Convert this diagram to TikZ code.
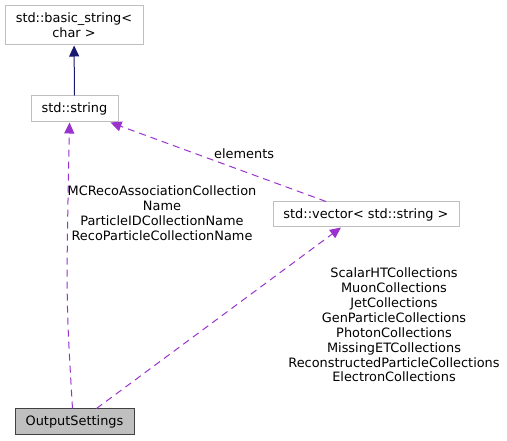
\documentclass[tikz,border=0pt]{standalone}
\usepackage{fontspec}
\setmainfont{DejaVu Sans}
\usetikzlibrary{arrows.meta}
\definecolor{Frame}{HTML}{BFBFBF}
\definecolor{Navy}{HTML}{191970}
\definecolor{Orchid}{HTML}{9A32CD}
\definecolor{Shade}{HTML}{BFBFBF}
\definecolor{Edge}{HTML}{404040}
\tikzset{
  klass/.style={
    draw=Frame, fill=white, inner sep=2pt, align=center, line width=1pt,
    font=\fontsize{12.9}{15}\selectfont
  },
  focus/.style={
    klass, draw=Edge, fill=Shade
  },
  member/.style={
    align=center, font=\fontsize{12.9}{14.9}\selectfont, inner sep=0pt
  },
  inherit/.style={-{Triangle[length=11pt,width=10pt,fill=Navy]}, line width=1pt, draw=Navy},
  uses/.style={-{Triangle[length=11pt,width=10pt,fill=Orchid]}, line width=1pt,
    dash pattern=on 7pt off 5pt, draw=Orchid}
}
\begin{document}
\begin{tikzpicture}[x=1pt,y=-1pt]
    \useasboundingbox (0,0) rectangle (507,441);
    \node[klass,minimum width=138pt,minimum height=39pt] (bstr) at (74,25.5) {std::basic\_string<\\char >};
    \node[klass,minimum width=87pt,minimum height=26pt] (str) at (74.5,109) {std::string};
    \node[klass,minimum width=186pt,minimum height=25pt] (vec) at (366,214.5) {std::vector< std::string >};
    \node[focus,minimum width=119pt,minimum height=25pt] (out) at (74.5,421.5) {OutputSettings};
    \draw[inherit] (str) -- (bstr);
    \draw[uses] ([xshift=-2pt]out.north) .. controls (66,300) .. ([xshift=-5pt]str.south);
    \draw[uses] ([xshift=-40pt]vec.north) -- node[member,above,pos=0.38,yshift=12pt]{elements} ([xshift=-8pt]str.south east);
    \draw[uses] ([xshift=22pt]out.north) -- ([xshift=-25pt]vec.south);
    \node[member] (lbla) at (162,213) {MCRecoAssociationCollection\\Name\\ParticleIDCollectionName\\RecoParticleCollectionName};
    \node[member] (lblb) at (394,325) {ScalarHTCollections\\MuonCollections\\JetCollections\\GenParticleCollections\\PhotonCollections\\MissingETCollections\\ReconstructedParticleCollections\\ElectronCollections};
  \end{tikzpicture}
\end{document}
